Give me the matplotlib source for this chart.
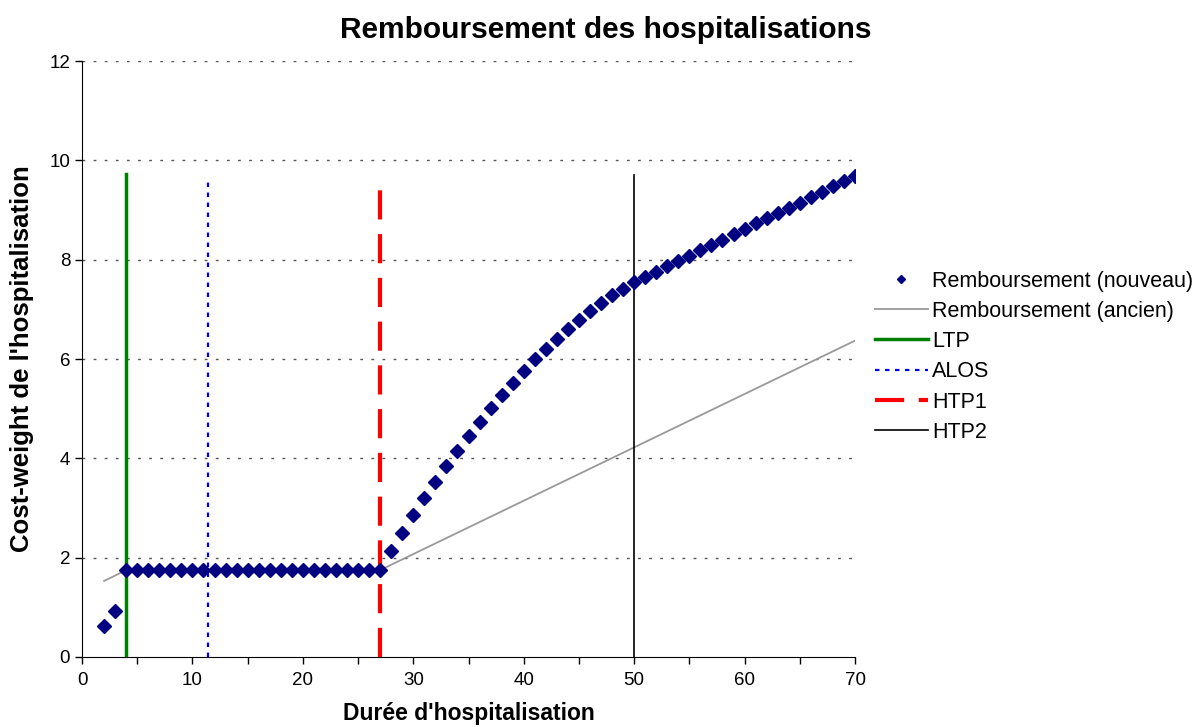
import matplotlib
matplotlib.use("Agg")
import matplotlib.pyplot as plt

plt.rcParams['font.family'] = ['Liberation Sans', 'DejaVu Sans']

# Remboursement (nouveau): one point per day of stay
days = list(range(2, 71))
new_cw = [0.62, 0.93] + [1.75] * 24 + [
    2.13, 2.49, 2.85, 3.20, 3.53, 3.84, 4.15, 4.45, 4.73, 5.01, 5.28, 5.52,
    5.76, 6.00, 6.21, 6.41, 6.61, 6.79, 6.97, 7.13, 7.28, 7.41, 7.55, 7.66,
    7.76, 7.87, 7.98, 8.08, 8.19, 8.29, 8.40, 8.51, 8.62, 8.73, 8.83, 8.94,
    9.04, 9.15, 9.26, 9.37, 9.48, 9.58, 9.69]

# Remboursement (ancien): break points of the old tariff
old_days = [2, 4, 27, 70]
old_cw = [1.53, 1.75, 1.75, 6.37]

# thresholds (day, top of the line)
ltp = (4, 9.72)
alos = (11.4, 9.58)
htp1 = (27, 9.50)
htp2 = (50, 9.70)

fig = plt.figure(figsize=(11.99, 7.27), dpi=100)
ax = fig.add_axes([0.0684, 0.0963, 0.6447, 0.8197])

ax.plot(old_days, old_cw, color='#999999', lw=1.3, label='Remboursement (ancien)', zorder=2)
ax.plot([ltp[0], ltp[0]], [0, ltp[1]], color='#008000', lw=2.5, label='LTP', zorder=3)
ax.plot([alos[0], alos[0]], [0, alos[1]], color='#0000ff', lw=1.6, ls=(0, (2, 2.5)), label='ALOS', zorder=3)
ax.plot([htp1[0], htp1[0]], [0, htp1[1]], color='#ff0000', lw=3, ls=(0, (7, 3.5)), label='HTP1', zorder=3)
ax.plot([htp2[0], htp2[0]], [0, htp2[1]], color='black', lw=1.2, label='HTP2', zorder=3)
ax.plot(days, new_cw, ls='none', marker='D', ms=6.8, color='#000080',
        label='Remboursement (nouveau)', zorder=4)

ax.set_xlim(0, 70)
ax.set_ylim(0, 12)
ax.set_xticks(range(0, 71, 10))
ax.set_xticks(range(5, 70, 10), minor=True)
ax.set_yticks(range(0, 13, 2))
ax.tick_params(axis='both', which='both', direction='out', length=5, width=1, labelsize=13.5)
ax.tick_params(axis='x', pad=6)
for s in ['top', 'right']:
    ax.spines[s].set_visible(False)
for y in range(2, 13, 2):
    ax.axhline(y, color='#555555', lw=1, ls=(0, (2, 6)), zorder=1)

ax.set_xlabel("Durée d'hospitalisation", fontsize=16.5, fontweight='bold', labelpad=9)
ax.set_ylabel("Cost-weight de l'hospitalisation", fontsize=18.5, fontweight='bold', labelpad=11)
fig.text(0.505, 0.959, 'Remboursement des hospitalisations', ha='center', va='center',
         fontsize=21.5, fontweight='bold')

handles, labels = ax.get_legend_handles_labels()
order = [5, 0, 1, 2, 3, 4]
ax.legend([handles[i] for i in order], [labels[i] for i in order],
          loc='center left', bbox_to_anchor=(1.026, 0.504), frameon=False, fontsize=15.5,
          borderaxespad=0, borderpad=0,
          handlelength=2.45, handletextpad=0.2, labelspacing=0.43, markerscale=0.6)

fig.savefig('out.png', dpi=100)
